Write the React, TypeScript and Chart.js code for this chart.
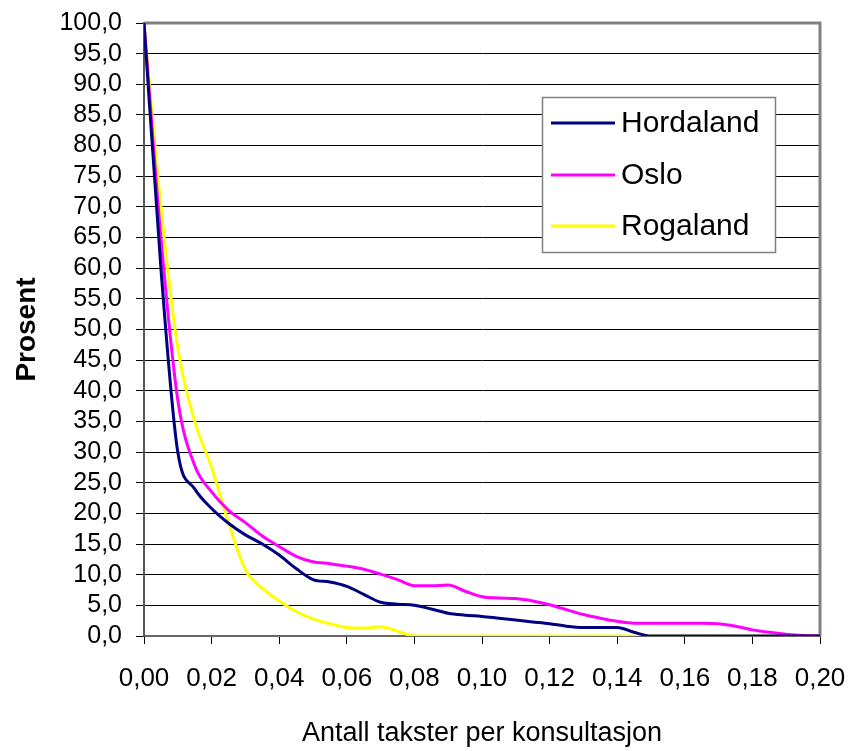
import React, { useEffect, useRef } from "react";
import { Chart, registerables } from "chart.js";

Chart.register(...registerables);

const xValues: number[] = [
  0, 0.005, 0.01, 0.015, 0.02, 0.025, 0.03, 0.035, 0.04, 0.045,
  0.05, 0.055, 0.06, 0.065, 0.07, 0.075, 0.08, 0.085, 0.09, 0.095,
  0.1, 0.105, 0.11, 0.115, 0.12, 0.125, 0.13, 0.135, 0.14, 0.145,
  0.15, 0.155, 0.16, 0.165, 0.17, 0.175, 0.18, 0.185, 0.19, 0.195, 0.2,
];

const hordaland: number[] = [
  100, 60, 30, 24, 20.8, 18.4, 16.5, 15, 13.2, 11,
  9.2, 8.8, 8.1, 6.8, 5.5, 5.2, 5.0, 4.4, 3.7, 3.4,
  3.2, 2.9, 2.6, 2.3, 2.0, 1.6, 1.4, 1.4, 1.4, 0.6,
  0, 0, 0, 0, 0, 0, 0, 0, 0, 0, 0,
];

const oslo: number[] = [
  100, 65, 38.5, 27.8, 23.5, 20.5, 18.5, 16.3, 14.6, 13,
  12.1, 11.8, 11.4, 10.9, 10.1, 9.2, 8.2, 8.2, 8.3, 7.3,
  6.4, 6.2, 6.1, 5.7, 5.1, 4.3, 3.5, 2.9, 2.4, 2.1,
  2.1, 2.1, 2.1, 2.1, 2.0, 1.6, 1.0, 0.6, 0.3, 0.1, 0,
];

const rogaland: number[] = [
  100, 70, 47, 35, 27.5, 18.5, 10.8, 7.8, 5.7, 4.0,
  2.8, 2.0, 1.4, 1.3, 1.5, 0.8, 0, 0, 0, 0,
  0, 0, 0, 0, 0, 0, 0, 0, 0, 0,
  0, 0, 0, 0, 0, 0, 0, 0, 0, 0, 0,
];

const seriesNames: string[] = ["Hordaland", "Oslo", "Rogaland"];
const seriesColors: string[] = ["#000080", "#FF00FF", "#FFFF00"];
const xTitle = "Antall takster per konsultasjon";
const yTitle = "Prosent";

const FONT = '"Liberation Sans", Arial, sans-serif';

export default function App() {
  const ref = useRef<HTMLCanvasElement>(null);

  useEffect(() => {
    document.body.style.margin = "0";
    const canvas = ref.current;
    if (!canvas) return;

    const seriesData = [hordaland, oslo, rogaland];

    const framePlugin = {
      id: "frame",
      beforeDatasetsDraw(chart: any) {
        const { ctx, chartArea } = chart;
        ctx.save();
        ctx.strokeStyle = "#808080";
        ctx.lineWidth = 3;
        ctx.beginPath();
        ctx.moveTo(chartArea.left, chartArea.top);
        ctx.lineTo(chartArea.right, chartArea.top);
        ctx.lineTo(chartArea.right, chartArea.bottom);
        ctx.stroke();
        ctx.restore();
      },
      afterDraw(chart: any) {
        const { ctx, chartArea } = chart;
        ctx.save();
        // axis titles
        ctx.fillStyle = "#000";
        ctx.textAlign = "center";
        ctx.textBaseline = "alphabetic";
        ctx.font = `27px ${FONT}`;
        ctx.fillText(xTitle, (chartArea.left + chartArea.right) / 2, 741);
        ctx.save();
        ctx.translate(27, (chartArea.top + chartArea.bottom) / 2);
        ctx.rotate(-Math.PI / 2);
        ctx.textBaseline = "middle";
        ctx.font = `bold 28px ${FONT}`;
        ctx.fillText(yTitle, 0, 0);
        ctx.restore();

        // legend
        const bx = 542, by = 97, bw = 233, bh = 155;
        ctx.fillStyle = "#fff";
        ctx.fillRect(bx, by, bw, bh);
        ctx.strokeStyle = "#808080";
        ctx.lineWidth = 1.5;
        ctx.strokeRect(bx + 0.5, by + 0.5, bw, bh);
        const rows = [123, 175, 226];
        seriesNames.forEach((name, i) => {
          ctx.strokeStyle = seriesColors[i];
          ctx.lineWidth = 3;
          ctx.beginPath();
          ctx.moveTo(551, rows[i]);
          ctx.lineTo(615, rows[i]);
          ctx.stroke();
          ctx.fillStyle = "#000";
          ctx.textAlign = "left";
          ctx.textBaseline = "middle";
          ctx.font = `30px ${FONT}`;
          ctx.fillText(name, 621, rows[i] + 1);
        });
        ctx.restore();
      },
    };

    const chart = new Chart(canvas, {
      type: "line",
      data: {
        datasets: seriesNames.map((name, i) => ({
          label: name,
          data: xValues.map((x, j) => ({ x, y: seriesData[i][j] })),
          borderColor: seriesColors[i],
          backgroundColor: seriesColors[i],
          borderWidth: 3,
          pointRadius: 0,
          cubicInterpolationMode: "monotone" as const,
          fill: false,
        })),
      },
      options: {
        animation: false,
        responsive: false,
        devicePixelRatio: 1,
        layout: { padding: { left: 0, top: 23, right: 32, bottom: 0 } },
        plugins: {
          legend: { display: false },
          tooltip: { enabled: false },
        },
        scales: {
          x: {
            type: "linear",
            min: 0,
            max: 0.2,
            afterFit(scale: any) {
              scale.height = 751 - 636;
              scale.paddingLeft = 0;
              scale.paddingRight = 0;
            },
            afterBuildTicks(scale: any) {
              const t = [];
              for (let i = 0; i <= 10; i++) t.push({ value: i * 0.02 });
              scale.ticks = t;
            },
            ticks: {
              autoSkip: false,
              maxRotation: 0,
              padding: 19,
              color: "#000",
              font: { family: FONT, size: 26 },
              callback: (v: any) => Number(v).toFixed(2).replace(".", ","),
            },
            grid: {
              drawOnChartArea: false,
              drawTicks: true,
              tickLength: 8,
              color: "#000",
              lineWidth: 1,
            },
            border: { display: true, color: "#666", width: 2 },
          },
          y: {
            type: "linear",
            min: 0,
            max: 100,
            afterFit(scale: any) {
              scale.width = 144;
              scale.paddingTop = 0;
              scale.paddingBottom = 0;
            },
            ticks: {
              stepSize: 5,
              autoSkip: false,
              padding: 14,
              color: "#000",
              font: { family: FONT, size: 25 },
              callback: (v: any) => Number(v).toFixed(1).replace(".", ","),
            },
            grid: {
              drawOnChartArea: true,
              drawTicks: true,
              tickLength: 8,
              color: "#000",
              lineWidth: 1,
            },
            border: { display: true, color: "#555", width: 2 },
          },
        },
      },
      plugins: [framePlugin],
    });

    return () => chart.destroy();
  }, []);

  return <canvas ref={ref} width={852} height={751} />;
}
